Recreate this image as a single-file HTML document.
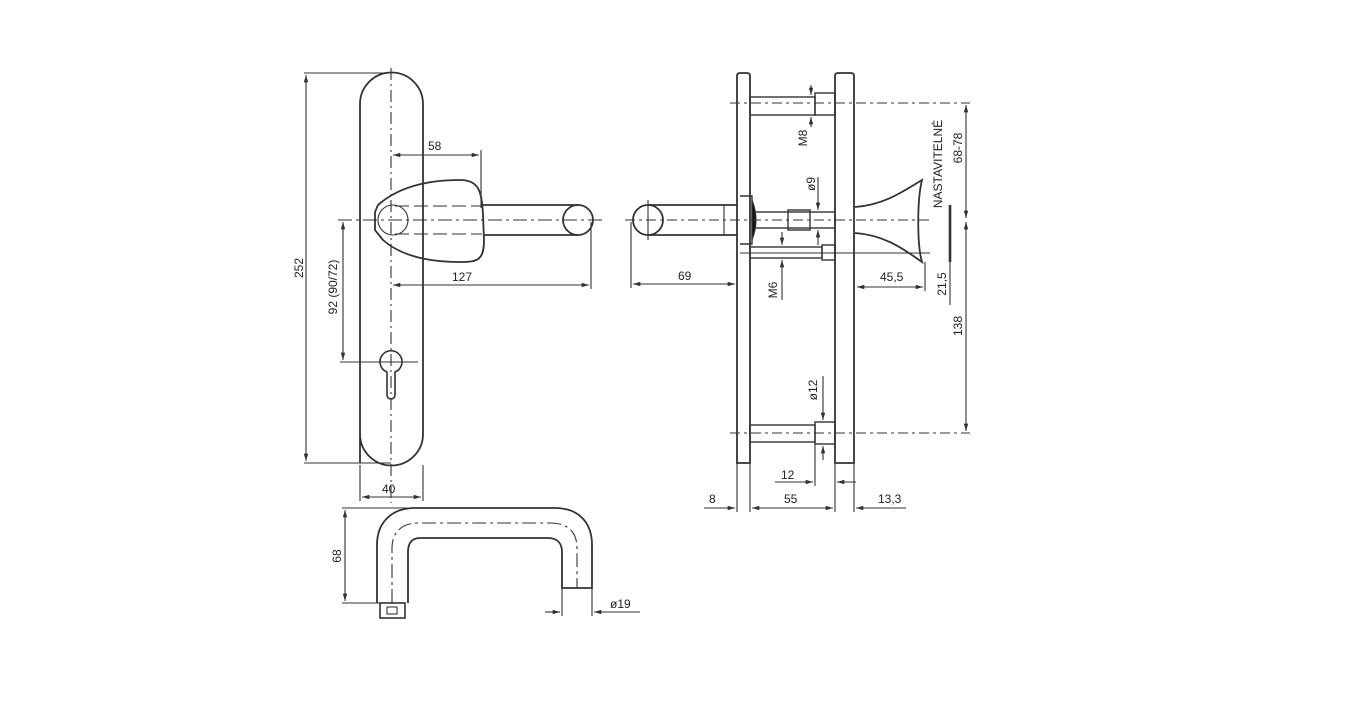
<!DOCTYPE html>
<html><head><meta charset="utf-8"><style>
html,body{margin:0;padding:0;background:#fff;}
svg{display:block;}
text{font-family:"Liberation Sans",sans-serif;font-size:12px;fill:#222;}
</style></head><body>
<svg width="1346" height="719" viewBox="0 0 1346 719" xmlns="http://www.w3.org/2000/svg">
<defs>
<marker id="a" viewBox="0 0 10 6" refX="10" refY="3" markerWidth="8" markerHeight="4" orient="auto-start-reverse"><path d="M0,0L10,3L0,6z" fill="#333"/></marker>
</defs>
<g fill="none" stroke="#333" stroke-width="1.1">
<!-- LEFT FRONT VIEW -->
<path d="M360,463 V104 A31.5,31.5 0 0 1 423,104 V434 A31.5,31.5 0 0 1 360,434" stroke-width="1.8"/>
<line x1="391" y1="68" x2="391" y2="503" stroke-dasharray="12,4,2,4"/>
<!-- 252 -->
<line x1="304" y1="73" x2="391" y2="73"/>
<line x1="304" y1="463" x2="391" y2="463"/>
<line x1="306" y1="75" x2="306" y2="461" marker-start="url(#a)" marker-end="url(#a)"/>
<!-- rose grip -->
<path d="M378,205 C395,190 420,180 460,180 C478,180 482,190 483,215 L484,240 C484,260 478,262 460,262 C425,262 400,255 383,240 L375,230 L375,212 Z" stroke-width="1.8"/>
<circle cx="393" cy="220" r="15"/>
<line x1="395" y1="206" x2="482" y2="206" stroke-dasharray="14,5"/>
<line x1="395" y1="234" x2="482" y2="234" stroke-dasharray="14,5"/>
<line x1="483" y1="205" x2="578" y2="205" stroke-width="1.8"/>
<line x1="483" y1="235" x2="578" y2="235" stroke-width="1.8"/>
<circle cx="578" cy="220" r="15" stroke-width="1.8"/>
<line x1="338" y1="220" x2="602" y2="220" stroke-dasharray="14,4,3,4"/>
<!-- 58 -->
<line x1="481" y1="150" x2="481" y2="208"/>
<line x1="393" y1="155" x2="479" y2="155" marker-start="url(#a)" marker-end="url(#a)"/>
<!-- 127 -->
<line x1="591" y1="222" x2="591" y2="289"/>
<line x1="393" y1="285" x2="589" y2="285" marker-start="url(#a)" marker-end="url(#a)"/>
<!-- 92 -->
<line x1="343" y1="222" x2="343" y2="360" marker-start="url(#a)" marker-end="url(#a)"/>
<line x1="340" y1="362" x2="418" y2="362"/>
<!-- keyhole -->
<path d="M387,372 A11,11 0 1 1 395,372 L395,395 A4,4 0 0 1 387,395 Z" stroke-width="1.6"/>
<!-- 40 -->
<line x1="360" y1="465" x2="360" y2="501"/>
<line x1="423" y1="465" x2="423" y2="501"/>
<line x1="362" y1="497" x2="421" y2="497" marker-start="url(#a)" marker-end="url(#a)"/>
<!-- U handle -->
<path d="M377,603 V545 C377,522 392,508 415,508 H555 C578,508 592,522 592,545 V588 H562 V552 C562,543 557,538 548,538 H420 C412,538 408,543 408,552 V603" stroke-width="1.8"/>
<path d="M392,603 V548 C392,532 402,523 418,523 H550 C568,523 577,532 577,548 V588" stroke-dasharray="14,4,3,4"/>
<rect x="380" y="603" width="25" height="15" stroke-width="1.6"/>
<rect x="387" y="607" width="10" height="7"/>
<!-- 68 -->
<line x1="342" y1="508" x2="410" y2="508"/>
<line x1="342" y1="603" x2="380" y2="603"/>
<line x1="345" y1="510" x2="345" y2="601" marker-start="url(#a)" marker-end="url(#a)"/>
<!-- o19 -->
<line x1="562" y1="588" x2="562" y2="616"/>
<line x1="592" y1="588" x2="592" y2="616"/>
<line x1="545" y1="612" x2="560" y2="612" marker-end="url(#a)"/>
<line x1="640" y1="612" x2="594" y2="612" marker-end="url(#a)"/>

<!-- RIGHT SIDE VIEW -->
<path d="M737,463 V76 Q737,73 740,73 H747 Q750,73 750,76 V463 Z" stroke-width="1.8"/>
<path d="M835,463 V76 Q835,73 838,73 H851 Q854,73 854,76 V463 Z" stroke-width="1.8"/>
<!-- top screw -->
<rect x="750" y="97" width="65" height="18" stroke-width="1.4"/>
<rect x="815" y="93" width="20" height="22" stroke-width="1.4"/>
<line x1="730" y1="103" x2="970" y2="103" stroke-dasharray="10,4,3,4"/>
<!-- bottom screw -->
<rect x="750" y="425" width="65" height="17" stroke-width="1.4"/>
<rect x="815" y="422" width="20" height="22" stroke-width="1.4"/>
<line x1="730" y1="433" x2="970" y2="433" stroke-dasharray="10,4,3,4"/>
<!-- spindle -->
<rect x="755" y="212" width="80" height="16" stroke-width="1.4"/>
<rect x="788" y="210" width="22" height="20" stroke-width="1.4"/>
<path d="M740,196 H752 V244 H740" stroke-width="1.4"/>
<path d="M752,200 Q760,220 752,240 Z" fill="#111"/>
<line x1="625" y1="220" x2="930" y2="220" stroke-dasharray="10,4,3,4"/>
<!-- M6 screw -->
<rect x="750" y="247" width="72" height="11" stroke-width="1.4"/>
<rect x="822" y="245" width="13" height="15" stroke-width="1.4"/>
<line x1="740" y1="253" x2="930" y2="253"/>
<!-- left lever -->
<circle cx="648" cy="220" r="15" stroke-width="1.8"/>
<line x1="648" y1="205" x2="737" y2="205" stroke-width="1.8"/>
<line x1="648" y1="235" x2="737" y2="235" stroke-width="1.8"/>
<line x1="724" y1="205" x2="724" y2="235"/>
<line x1="648" y1="200" x2="648" y2="240"/>
<!-- 69 -->
<line x1="631" y1="222" x2="631" y2="288"/>
<line x1="633" y1="284" x2="735" y2="284" marker-start="url(#a)" marker-end="url(#a)"/>
<!-- knob -->
<path d="M855,207 C885,205 905,190 922,180 C917,200 917,245 922,262 C905,250 885,235 855,233" stroke-width="1.8"/>
<!-- 45,5 -->
<line x1="925" y1="262" x2="925" y2="291"/>
<line x1="857" y1="287" x2="923" y2="287" marker-start="url(#a)" marker-end="url(#a)"/>
<!-- 21,5 -->
<line x1="950" y1="205" x2="950" y2="262" stroke-width="2.6"/>
<line x1="950" y1="262" x2="950" y2="305"/>
<!-- 68-78 / 138 -->
<line x1="966" y1="105" x2="966" y2="218" marker-start="url(#a)" marker-end="url(#a)"/>
<line x1="966" y1="222" x2="966" y2="431" marker-start="url(#a)" marker-end="url(#a)"/>
<!-- M8 -->
<line x1="811" y1="85" x2="811" y2="95" marker-end="url(#a)"/>
<line x1="811" y1="127" x2="811" y2="117" marker-end="url(#a)"/>
<!-- o9 -->
<line x1="818" y1="177" x2="818" y2="210" marker-end="url(#a)"/>
<line x1="818" y1="245" x2="818" y2="230" marker-end="url(#a)"/>
<!-- M6 -->
<line x1="782" y1="232" x2="782" y2="245" marker-end="url(#a)"/>
<line x1="782" y1="300" x2="782" y2="260" marker-end="url(#a)"/>
<!-- o12 -->
<line x1="823" y1="376" x2="823" y2="420" marker-end="url(#a)"/>
<line x1="823" y1="460" x2="823" y2="446" marker-end="url(#a)"/>
<!-- 12 -->
<line x1="815" y1="444" x2="815" y2="486"/>
<line x1="775" y1="482" x2="813" y2="482" marker-end="url(#a)"/>
<line x1="856" y1="482" x2="837" y2="482" marker-end="url(#a)"/>
<!-- bottom dims -->
<line x1="737" y1="463" x2="737" y2="512"/>
<line x1="750" y1="463" x2="750" y2="512"/>
<line x1="835" y1="463" x2="835" y2="512"/>
<line x1="854" y1="463" x2="854" y2="512"/>
<line x1="704" y1="508" x2="735" y2="508" marker-end="url(#a)"/>
<line x1="752" y1="508" x2="833" y2="508" marker-start="url(#a)" marker-end="url(#a)"/>
<line x1="906" y1="508" x2="856" y2="508" marker-end="url(#a)"/>
</g>
<!-- texts -->
<text x="428" y="150">58</text>
<text x="452" y="281">127</text>
<text x="382" y="493">40</text>
<text x="303" y="268" transform="rotate(-90 303 268)" text-anchor="middle">252</text>
<text x="337" y="287" transform="rotate(-90 337 287)" text-anchor="middle">92 (90/72)</text>
<text x="341" y="556" transform="rotate(-90 341 556)" text-anchor="middle">68</text>
<text x="610" y="608">ø19</text>
<text x="678" y="280">69</text>
<text x="880" y="281">45,5</text>
<text x="781" y="479">12</text>
<text x="709" y="503">8</text>
<text x="784" y="503">55</text>
<text x="878" y="503">13,3</text>
<text x="807" y="138" transform="rotate(-90 807 138)" text-anchor="middle">M8</text>
<text x="815" y="184" transform="rotate(-90 815 184)" text-anchor="middle">ø9</text>
<text x="777" y="290" transform="rotate(-90 777 290)" text-anchor="middle">M6</text>
<text x="817" y="390" transform="rotate(-90 817 390)" text-anchor="middle">ø12</text>
<text x="942" y="164" transform="rotate(-90 942 164)" text-anchor="middle">NASTAVITELNÉ</text>
<text x="962" y="148" transform="rotate(-90 962 148)" text-anchor="middle">68-78</text>
<text x="946" y="284" transform="rotate(-90 946 284)" text-anchor="middle">21,5</text>
<text x="962" y="326" transform="rotate(-90 962 326)" text-anchor="middle">138</text>
</svg>
</body></html>
